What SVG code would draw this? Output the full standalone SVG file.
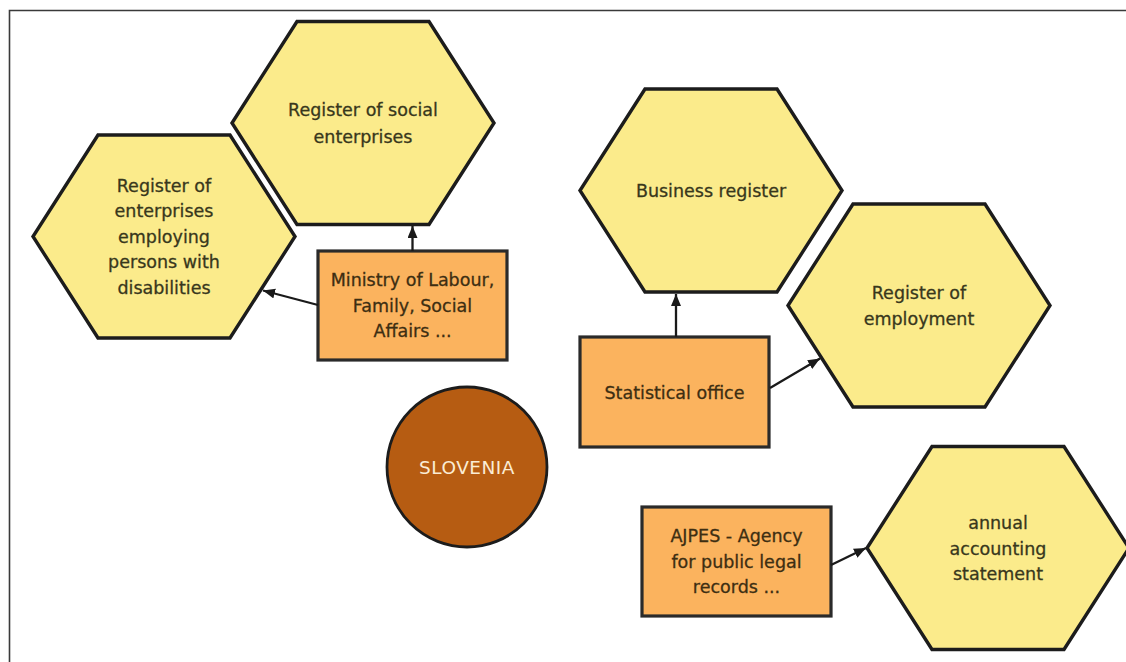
<svg xmlns="http://www.w3.org/2000/svg" width="1126" height="662" viewBox="0 0 1126 662">
<style>
.hex{fill:#fbeb8b;stroke:#1c1c1c;stroke-width:3.4;stroke-linejoin:miter}
.box{fill:#fbb35e;stroke:#2a2a2a;stroke-width:3.2}
.t{font-family:"DejaVu Sans","Liberation Sans",sans-serif;font-size:17.5px;fill:#38371c;stroke:#38371c;stroke-width:0.3;text-anchor:middle}
.tb{fill:#3d2e12;stroke:#3d2e12}
.conn path{fill:none;stroke:#1a1a1a;stroke-width:2.3;marker-end:url(#arr)}
</style>
<defs>
<marker id="arr" markerUnits="userSpaceOnUse" markerWidth="13" markerHeight="11" refX="12" refY="5" orient="auto">
<path d="M0,0 L12,5 L0,10 z" fill="#1a1a1a"/>
</marker>
</defs>
<rect width="1126" height="662" fill="#ffffff"/>
<path d="M9.5,662 V10.5 H1126" fill="none" stroke="#3a3a3a" stroke-width="1.6"/>
<g id="hex-social">
<polygon class="hex" points="297,21.5 429,21.5 494,123 429,224.5 297,224.5 232,123"/>
<text class="t" x="363" y="116">Register of social</text>
<text class="t" x="363" y="143">enterprises</text>
</g>
<g id="hex-disabilities">
<polygon class="hex" points="98,135 230,135 295,236.5 230,338 98,338 33,236.5"/>
<text class="t" x="164" y="191.5">Register of</text>
<text class="t" x="164" y="217">enterprises</text>
<text class="t" x="164" y="242.5">employing</text>
<text class="t" x="164" y="268">persons with</text>
<text class="t" x="164" y="293.5">disabilities</text>
</g>
<g id="hex-business">
<polygon class="hex" points="645,89 777,89 842,190.5 777,292 645,292 580,190.5"/>
<text class="t" x="711" y="197">Business register</text>
</g>
<g id="hex-employment">
<polygon class="hex" points="853,204 985,204 1050,305.5 985,407 853,407 788,305.5"/>
<text class="t" x="919" y="299">Register of</text>
<text class="t" x="919" y="324.5">employment</text>
</g>
<g id="hex-annual">
<polygon class="hex" points="932,446.5 1064,446.5 1129,548 1064,649.5 932,649.5 867,548"/>
<text class="t" x="998" y="529">annual</text>
<text class="t" x="998" y="554.5">accounting</text>
<text class="t" x="998" y="580">statement</text>
</g>
<g id="box-ministry">
<rect class="box" x="318" y="251" width="189" height="109"/>
<text class="t tb" x="412.5" y="286">Ministry of Labour,</text>
<text class="t tb" x="412.5" y="311.5">Family, Social</text>
<text class="t tb" x="412.5" y="337">Affairs ...</text>
</g>
<g id="box-statistical">
<rect class="box" x="580" y="337" width="189" height="110"/>
<text class="t tb" x="674.5" y="399">Statistical office</text>
</g>
<g id="box-ajpes">
<rect class="box" x="642" y="507" width="189" height="109"/>
<text class="t tb" x="736.5" y="542">AJPES - Agency</text>
<text class="t tb" x="736.5" y="567.5">for public legal</text>
<text class="t tb" x="736.5" y="593">records ...</text>
</g>
<g id="slovenia">
<circle cx="467" cy="467" r="80" fill="#b65c12" stroke="#1c1c1c" stroke-width="2.8"/>
<text class="t" x="467" y="473.5" style="fill:#fbecd4;stroke:none;font-size:18.5px;letter-spacing:0.5px">SLOVENIA</text>
</g>
<g id="connectors" class="conn">
<path d="M412.5,251 L412.5,226"/>
<path d="M318,305 L263,290.5"/>
<path d="M676,337 L676,294"/>
<path d="M770,388 L820,358.5"/>
<path d="M831,565 L866,548"/>
</g>
</svg>
